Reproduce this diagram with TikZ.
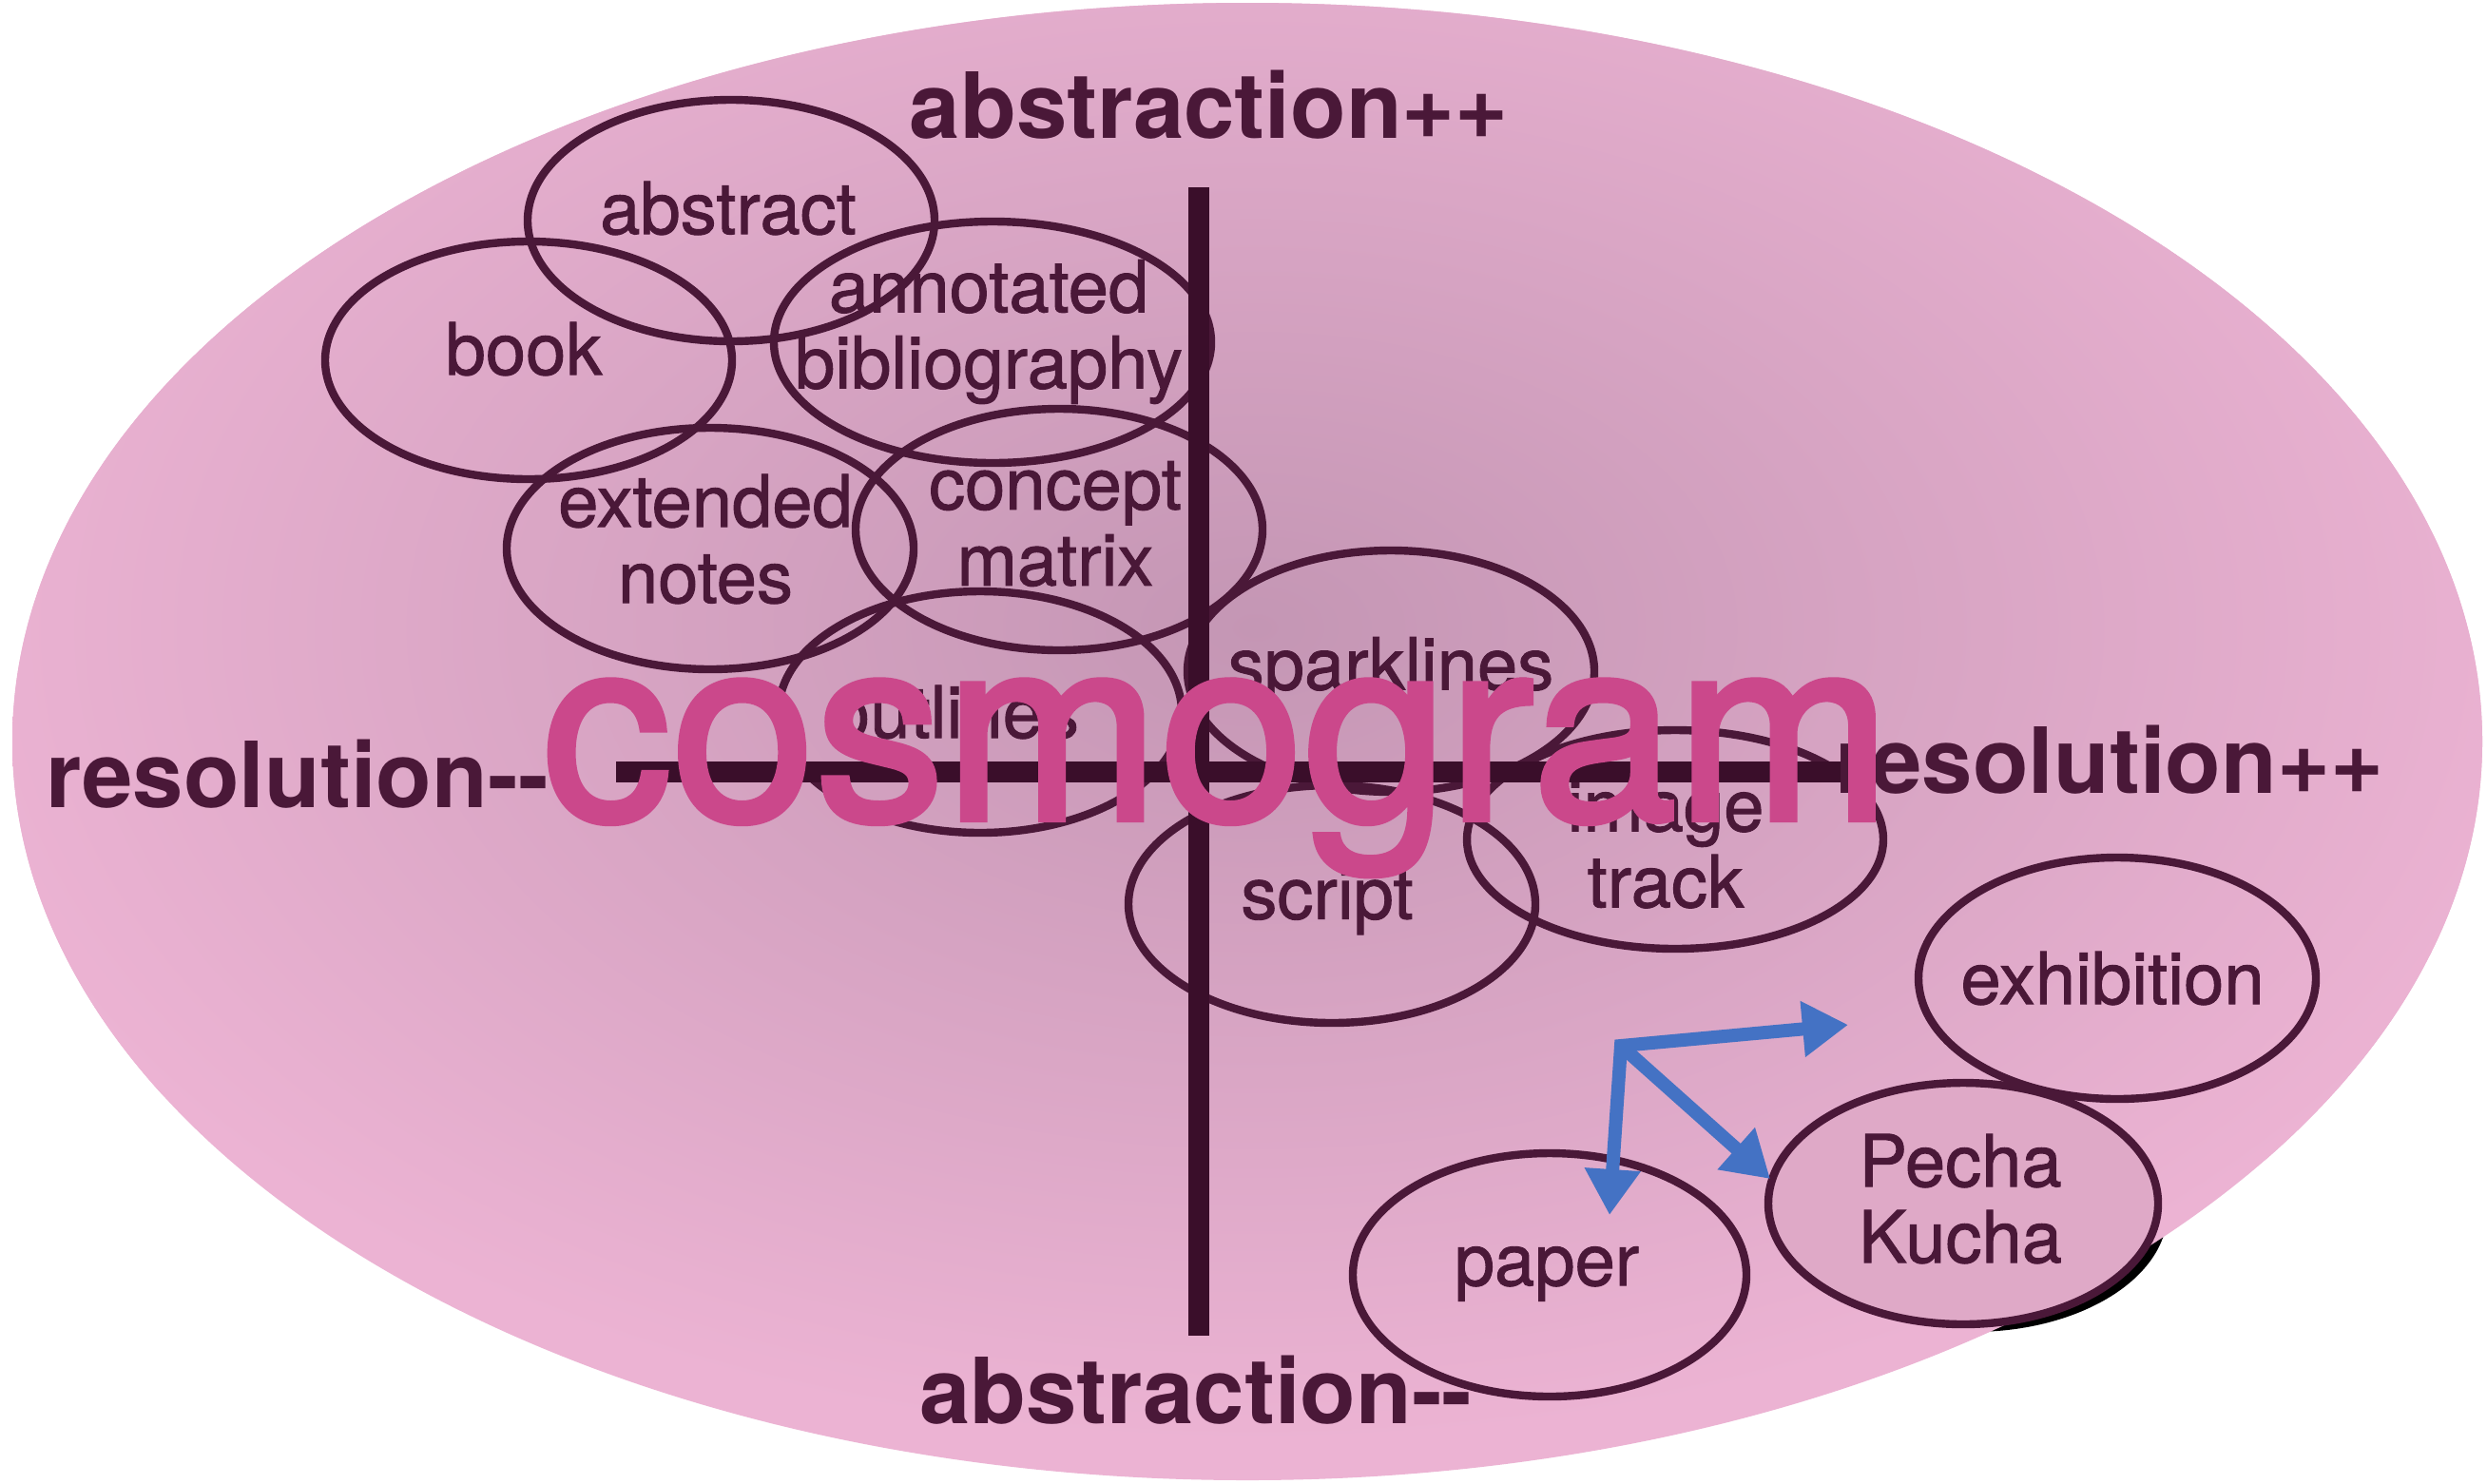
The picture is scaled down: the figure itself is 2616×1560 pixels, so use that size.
\documentclass[tikz,border=0pt]{standalone}
\usepackage{fontspec}
\setmainfont{TeX Gyre Heros}
\newfontfamily\cosmofont[FakeBold=2.3]{TeX Gyre Heros}
\newfontfamily\lblfont[FakeBold=1.2]{TeX Gyre Heros}
\usetikzlibrary{arrows.meta}
\definecolor{plum}{HTML}{4A1838}
\definecolor{axisc}{HTML}{3A0E2A}
\definecolor{bgmid}{HTML}{C496B4}
\definecolor{bgedge}{HTML}{ECB3D3}
\definecolor{cosmoc}{HTML}{CB488B}
\definecolor{arrowblue}{HTML}{4472C4}
\definecolor{pechafill}{HTML}{DFA9C7}
\begin{document}
\begin{tikzpicture}[x=0.5pt,y=-0.5pt,
  ring/.style={draw=plum, line width=4.2pt},
  lbl/.style={text=plum, font=\lblfont\fontsize{38}{40}\selectfont, align=center, inner sep=0pt},
  axislbl/.style={text=plum, font=\fontsize{48}{50}\selectfont\bfseries, inner sep=0pt, anchor=base},
  axisline/.style={draw=axisc, line width=11pt},
  bigword/.style={text=cosmoc, font=\cosmofont\fontsize{136}{140}\selectfont, inner sep=0pt, anchor=base},
  flow/.style={draw=arrowblue, line width=7pt, line join=miter},
  tipend/.style={-{Triangle[length=24pt,width=28pt]}},
  tipboth/.style={{Triangle[length=24pt,width=28pt]}-{Triangle[length=24pt,width=28pt]}},
]
\fill[white] (0,0) rectangle (2616,1560);
\useasboundingbox (0,0) rectangle (2616,1560);

% shadow of the Pecha Kucha ellipse
\fill[black] (2075,1274) ellipse [x radius=102.5pt, y radius=63.5pt];

% background ellipse with gradient
\fill[bgedge] (1312,780) ellipse [x radius=649.5pt, y radius=388.5pt];
\begin{scope}
  \clip (1312,780) ellipse [x radius=649.5pt, y radius=388.5pt];
  \shade[inner color=bgmid, outer color=bgedge] (1320,660) ellipse [x radius=700pt, y radius=430pt];
\end{scope}

% ellipses
\draw[ring] (769,232) ellipse [x radius=107pt, y radius=63.5pt];
\draw[ring] (556,379) ellipse [x radius=107pt, y radius=62.5pt];
\draw[ring] (1044,360) ellipse [x radius=115pt, y radius=63.5pt];
\draw[ring] (747,577) ellipse [x radius=107pt, y radius=63.5pt];
\draw[ring] (1114,557) ellipse [x radius=107pt, y radius=63.5pt];
\draw[ring] (1031,749) ellipse [x radius=106pt, y radius=63.5pt];
\draw[ring] (1463,706) ellipse [x radius=107pt, y radius=63.5pt];
\draw[ring] (1762,883) ellipse [x radius=109.5pt, y radius=57.5pt];
\draw[ring] (1401,951) ellipse [x radius=107pt, y radius=62.5pt];
\draw[ring] (2227,1029) ellipse [x radius=104.5pt, y radius=63.5pt];
\draw[ring, fill=pechafill] (2065,1266) ellipse [x radius=102.5pt, y radius=63.5pt];
\draw[ring] (1630,1341) ellipse [x radius=103.5pt, y radius=64pt];

% labels in the ellipses
\node[lbl] (abstract) at (766,219) {abstract};
\node[lbl] (book) at (551,367) {book};
\node[lbl] (annot) at (1040,349) {annotated\\bibliography};
\node[lbl] (extended) at (742,567) {extended\\notes};
\node[lbl] (concept) at (1110,551) {concept\\matrix};
\node[lbl] (outlines) at (1004,749) {outlines};
\node[lbl] (sparklines) at (1463,706) {sparklines};
\node[lbl] (imagetrack) at (1752,888) {image\\track};
\node[lbl] (script) at (1396,948) {script};
\node[lbl] (exhibition) at (2222,1029) {exhibition};
\node[lbl] (pecha) at (2062,1261) {Pecha\\Kucha};
\node[lbl] (paper) at (1627,1340) {paper};

% axes
\draw[axisline] (1261,197) -- (1261,1405);
\draw[axisline] (648,812) -- (1960,812);

% axis labels
\node[axislbl] (absplus) at (1272,145) {abstraction++};
\node[axislbl] (absminus) at (1258,1497) {abstraction-{}-};
\node[axislbl] (resminus) at (313,849) {resolution-{}-};
\node[axislbl] (resplus) at (2219,834) {resolution++};

% blue arrows
\coordinate (fork) at (1705,1100);
\coordinate (toexh) at (1944,1078);
\coordinate (topaper) at (1693,1278);
\coordinate (topecha) at (1862,1240);
\draw[flow, tipboth] (topaper) -- (fork) -- (toexh);
\draw[flow, tipend] (fork) -- (topecha);

% title word
\node[bigword] (cosmo) at (1280,862) {cosmogram};
\end{tikzpicture}
\end{document}
